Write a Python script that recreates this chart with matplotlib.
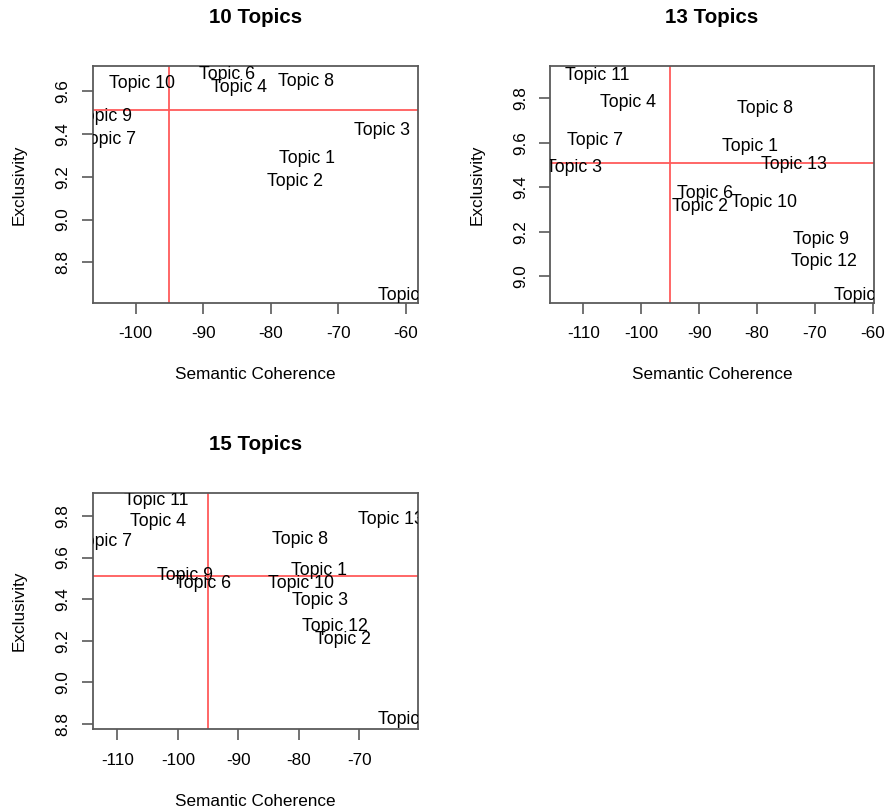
import matplotlib
matplotlib.use("Agg")
import matplotlib.pyplot as plt

# ── Data (semantic coherence, exclusivity) ────────────────────────────────────

labels_10 = ["Topic 1", "Topic 2", "Topic 3", "Topic 4", "Topic 5",
             "Topic 6", "Topic 7", "Topic 8", "Topic 9", "Topic 10"]
semcoh_10 = [-74.67, -76.35, -63.56, -84.75, -59.95,
             -86.45, -104.06, -74.72, -104.7, -99.0]
excl_10   = [9.286, 9.177, 9.415, 9.619, 8.647,
             9.678, 9.376, 9.644, 9.483, 9.636]

labels_13 = ["Topic 1", "Topic 2", "Topic 3", "Topic 4", "Topic 5",
             "Topic 6", "Topic 7", "Topic 8", "Topic 9", "Topic 10",
             "Topic 11", "Topic 12", "Topic 13"]
semcoh_13 = [-81.17, -89.84, -111.6, -102.34, -61.8,
             -88.97, -107.93, -78.55, -68.87, -78.84,
             -107.55, -68.52, -73.65]
excl_13   = [9.582, 9.312, 9.488, 9.782, 8.914,
             9.372, 9.609, 9.755, 9.165, 9.332,
             9.905, 9.067, 9.504]

labels_15 = ["Topic 1", "Topic 2", "Topic 3", "Topic 4", "Topic 5",
             "Topic 6", "Topic 7", "Topic 8", "Topic 9", "Topic 10",
             "Topic 11", "Topic 12", "Topic 13"]
semcoh_15 = [-76.69, -72.70, -76.45, -103.28, -62.29,
             -95.79, -112.26, -79.86, -98.87, -79.72,
             -103.58, -74.02, -64.71]
excl_15   = [9.540, 9.207, 9.393, 9.773, 8.819,
             9.476, 9.677, 9.685, 9.516, 9.473,
             9.872, 9.268, 9.781]

# reference lines
V_LINE = -95.0
H_LINE = 9.51

# ── Style (R base graphics look) ──────────────────────────────────────────────

FONT   = "Liberation Sans"
FS     = 12.3
FS_LAB = 12.8
BOX    = "#5a5a5a"
RED    = "#ff5a5a"

plt.rcParams.update({
    "font.family": FONT,
    "font.size":   FS,
})

fig = plt.figure(figsize=(8.86, 8.09), dpi=100)

panels = [
    # title, labels, x, y, rect, xlim, ylim, xticks, yticks
    ("10 Topics", labels_10, semcoh_10, excl_10,
     [0.1046, 0.6258, 0.3668, 0.2926], (-106.37, -58.22), (8.612, 9.717),
     [-100, -90, -80, -70, -60], [8.8, 9.0, 9.2, 9.4, 9.6]),
    ("13 Topics", labels_13, semcoh_13, excl_13,
     [0.6208, 0.6258, 0.3657, 0.2926], (-115.75, -59.78), (8.880, 9.946),
     [-110, -100, -90, -80, -70, -60], [9.0, 9.2, 9.4, 9.6, 9.8]),
    ("15 Topics", labels_15, semcoh_15, excl_15,
     [0.1046, 0.0985, 0.3668, 0.2925], (-114.08, -60.36), (8.774, 9.912),
     [-110, -100, -90, -80, -70], [8.8, 9.0, 9.2, 9.4, 9.6, 9.8]),
]

for title, labs, xs, ys, rect, xlim, ylim, xt, yt in panels:
    ax = fig.add_axes(rect)
    ax.set_xlim(*xlim)
    ax.set_ylim(*ylim)

    for lab, x, y in zip(labs, xs, ys):
        ax.text(x, y, lab, ha="center", va="center", fontsize=FS_LAB,
                color="black", clip_on=True)

    ax.axvline(V_LINE, color=RED, lw=1.3)
    ax.axhline(H_LINE, color=RED, lw=1.3)

    for sp in ax.spines.values():
        sp.set_color(BOX)
        sp.set_linewidth(1.3)

    ax.set_xticks(xt)
    ax.set_xticklabels([f"{v:d}" for v in xt])
    ax.set_yticks(yt)
    ax.set_yticklabels([f"{v:.1f}" for v in yt], rotation=90, va="center")
    ax.tick_params(direction="out", length=8, width=1.2, color=BOX,
                   labelsize=FS, labelcolor="black")
    ax.tick_params(axis="x", pad=9)
    ax.tick_params(axis="y", pad=8)

    ax.set_title(title, fontsize=14.8, fontweight="bold", y=1.169, va="center")
    ax.set_xlabel("Semantic Coherence", fontsize=FS, va="center")
    ax.xaxis.set_label_coords(0.5, -0.305)
    ax.set_ylabel("Exclusivity", fontsize=FS, va="center")
    ax.yaxis.set_label_coords(-0.225, 0.5)

fig.savefig("out.png", dpi=100)
